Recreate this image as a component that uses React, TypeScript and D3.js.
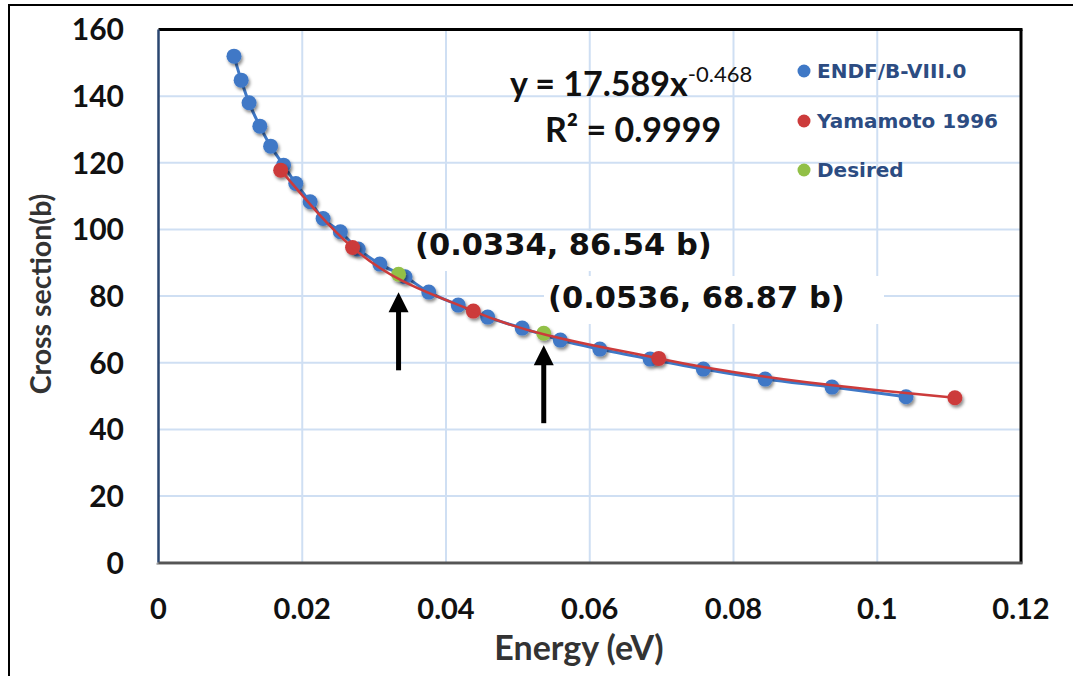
import * as d3 from "d3";

// ENDF/B-VIII.0 evaluated points (energy in eV, cross section in b)
const endfEnergy = [
  0.0105, 0.0115, 0.0126, 0.0141, 0.0156, 0.0174, 0.0191, 0.0211, 0.0229, 0.0253, 0.0278, 0.0308,
  0.0343, 0.0376, 0.0417, 0.0458, 0.0506, 0.0559, 0.0614, 0.0684, 0.0758, 0.0844, 0.0937, 0.104,
];
const endfSigma = [
  152.0, 144.8, 138.0, 131.0, 125.0, 119.3, 113.8, 108.3, 103.3, 99.3, 94.1, 89.6,
  85.8, 81.2, 77.3, 73.7, 70.4, 66.8, 64.1, 61.1, 58.1, 55.1, 52.7, 49.8,
];

// Yamamoto 1996
const yamaEnergy = [0.017, 0.027, 0.0438, 0.0696, 0.1108];
const yamaSigma = [117.8, 94.6, 75.5, 61.3, 49.5];

// Desired points
const desiredEnergy = [0.0334, 0.0536];
const desiredSigma = [86.54, 68.87];
const desiredLabels = ["(0.0334, 86.54 b)", "(0.0536, 68.87 b)"];

const xTicks = [0, 0.02, 0.04, 0.06, 0.08, 0.1, 0.12];
const yTicks = [0, 20, 40, 60, 80, 100, 120, 140, 160];

const legendNames = ["ENDF/B-VIII.0", "Yamamoto 1996", "Desired"];

const W = 1073;
const H = 676;
const plot = { left: 158.5, right: 1021, top: 29.5, bottom: 562.7 };

const BLUE = "#3f78c6";
const RED = "#cc3b3b";
const GREEN = "#92c047";
const GRID = "#cfdff3";
const LEGEND_TEXT = "#2c4c82";

const zip = (xs: number[], ys: number[]) => xs.map((x, i) => ({ x, y: ys[i] }));

export default function App() {
  const x = d3.scaleLinear().domain([0, 0.12]).range([plot.left, plot.right]);
  const y = d3.scaleLinear().domain([0, 160]).range([plot.bottom, plot.top]);

  const endf = zip(endfEnergy, endfSigma);
  const yama = zip(yamaEnergy, yamaSigma);
  const desired = zip(desiredEnergy, desiredSigma);

  const blueLine = d3
    .line<{ x: number; y: number }>()
    .x((d) => x(d.x))
    .y((d) => y(d.y))
    .curve(d3.curveCatmullRom);
  const redLine = d3
    .line<{ x: number; y: number }>()
    .x((d) => x(d.x))
    .y((d) => y(d.y))
    .curve(d3.curveMonotoneX);

  // label boxes and arrows (layout only)
  const labelPos = [
    { x: 415, y: 255, box: [410, 231, 308, 40] },
    { x: 548, y: 308, box: [544, 276, 340, 48] },
  ];
  const arrowGap = [18, 12];
  const arrowLen = 78;

  const legendRows = [71, 121, 170];
  const legendColors = [BLUE, RED, GREEN];

  const tickFont = "Lato, 'Liberation Sans', sans-serif";

  return (
    <div style={{ position: "absolute", left: 0, top: 0 }}>
      <svg width={W} height={H} style={{ display: "block", background: "#fff" }}>
        <defs>
          <filter id="shadow" x="-50%" y="-50%" width="200%" height="200%">
            <feDropShadow dx="1.5" dy="2.5" stdDeviation="1.6" floodColor="#000" floodOpacity="0.45" />
          </filter>
        </defs>

        {/* outer frame */}
        <rect x={9} y={5} width={W + 20} height={H + 20} fill="#fff" stroke="#000" strokeWidth={2} />

        {/* grid */}
        {xTicks.slice(1, -1).map((t) => (
          <line key={"gx" + t} x1={x(t)} x2={x(t)} y1={plot.top} y2={plot.bottom} stroke={GRID} strokeWidth={2} />
        ))}
        {yTicks.slice(1, -1).map((t) => (
          <line key={"gy" + t} x1={plot.left} x2={plot.right} y1={y(t)} y2={y(t)} stroke={GRID} strokeWidth={2} />
        ))}

        {/* plot area border */}
        <line x1={plot.left} x2={plot.right + 1.5} y1={plot.top} y2={plot.top} stroke="#000" strokeWidth={3} />
        <line x1={plot.right} x2={plot.right} y1={plot.top} y2={plot.bottom} stroke="#000" strokeWidth={3} />
        <line x1={plot.left} x2={plot.left} y1={plot.top} y2={plot.bottom} stroke="#2a4670" strokeWidth={2.5} />
        <line
          x1={plot.left - 2}
          x2={plot.right + 1.5}
          y1={plot.bottom + 1}
          y2={plot.bottom + 1}
          stroke="#9a9a9a"
          strokeWidth={2}
        />
        <line x1={plot.left} x2={plot.right + 1.5} y1={plot.bottom} y2={plot.bottom} stroke="#555" strokeWidth={2.5} />

        {/* y tick labels */}
        {yTicks.map((t) => (
          <text
            key={"ty" + t}
            x={124}
            y={y(t)}
            dy="0.36em"
            textAnchor="end"
            fontFamily={tickFont}
            fontWeight={700}
            fontSize={30}
            fill="#111"
          >
            {t}
          </text>
        ))}
        {/* x tick labels */}
        {xTicks.map((t) => (
          <text
            key={"tx" + t}
            x={x(t)}
            y={619}
            textAnchor="middle"
            fontFamily={tickFont}
            fontWeight={700}
            fontSize={29}
            fill="#111"
          >
            {d3.format("~g")(t)}
          </text>
        ))}

        {/* axis titles */}
        <text
          transform={`translate(51,294) rotate(-90)`}
          textAnchor="middle"
          fontFamily={tickFont}
          fontWeight={700}
          fontSize={28.5}
          fill="#333"
        >
          Cross section(b)
        </text>
        <text x={579} y={660} textAnchor="middle" fontFamily={tickFont} fontWeight={700} fontSize={34} fill="#333">
          Energy (eV)
        </text>

        {/* series */}
        <path d={blueLine(endf) ?? ""} fill="none" stroke={BLUE} strokeWidth={3} />
        <g filter="url(#shadow)">
          {endf.map((d, i) => (
            <circle key={"b" + i} cx={x(d.x)} cy={y(d.y)} r={7.5} fill={BLUE} />
          ))}
        </g>
        <g filter="url(#shadow)">
          {desired.map((d, i) => (
            <circle key={"g" + i} cx={x(d.x)} cy={y(d.y)} r={7.5} fill={GREEN} />
          ))}
        </g>
        <g filter="url(#shadow)">
          {yama.map((d, i) => (
            <circle key={"r" + i} cx={x(d.x)} cy={y(d.y)} r={7.5} fill={RED} />
          ))}
        </g>
        <path d={redLine(yama) ?? ""} fill="none" stroke={RED} strokeWidth={2.5} />

        {/* trend equation */}
        <text x={510} y={96} fontFamily={tickFont} fontWeight={700} fontSize={34} fill="#111">
          y = 17.589x
          <tspan dy={-14} fontSize={22} fontWeight={400}>
            -0.468
          </tspan>
        </text>
        <text x={545} y={142} fontFamily={tickFont} fontWeight={700} fontSize={34} fill="#111">
          R² = 0.9999
        </text>

        {/* legend */}
        {legendNames.map((name, i) => (
          <g key={name}>
            <circle cx={804} cy={legendRows[i]} r={6.5} fill={legendColors[i]} />
            <text
              x={817}
              y={legendRows[i]}
              dy="0.36em"
              fontFamily="'DejaVu Sans', sans-serif"
              fontWeight={700}
              fontSize={20}
              fill={LEGEND_TEXT}
            >
              {name}
            </text>
          </g>
        ))}

        {/* annotations */}
        {desired.map((d, i) => {
          const lp = labelPos[i];
          const ax = x(d.x);
          const tip = y(d.y) + arrowGap[i];
          return (
            <g key={"a" + i}>
              <rect x={lp.box[0]} y={lp.box[1]} width={lp.box[2]} height={lp.box[3]} fill="#fff" />
              <text
                x={lp.x}
                y={lp.y}
                fontFamily="'DejaVu Sans', sans-serif"
                fontWeight={700}
                fontSize={30.5}
                fill="#111"
              >
                {desiredLabels[i]}
              </text>
              <line x1={ax} x2={ax} y1={tip + 16} y2={tip + arrowLen} stroke="#000" strokeWidth={5} />
              <path d={`M${ax},${tip} L${ax - 10},${tip + 20} L${ax + 10},${tip + 20} Z`} fill="#000" />
            </g>
          );
        })}
      </svg>
    </div>
  );
}
